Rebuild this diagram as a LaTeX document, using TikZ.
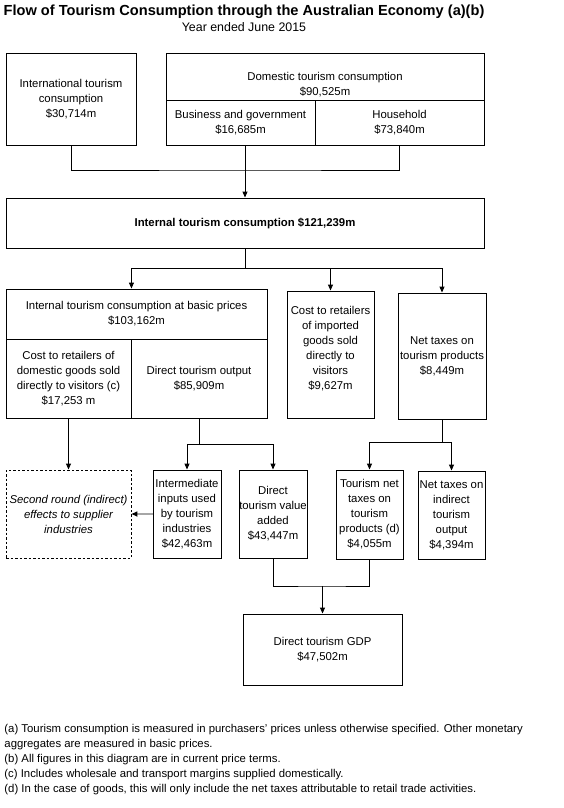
\documentclass[tikz,border=0pt]{standalone}
\usepackage{fontspec}
\setmainfont{Liberation Sans}
\usetikzlibrary{arrows.meta,positioning}

\begin{document}
\begin{tikzpicture}[x=1pt,y=-1pt,line width=.9pt,
box/.style={draw,align=center,inner sep=0pt,font=\fontsize{11.35}{15}\selectfont},
txt/.style={align=center,inner sep=0pt,font=\fontsize{11.35}{15}\selectfont},
arr/.style={-{Triangle[length=6pt,width=5pt]}}]
\useasboundingbox (0,0) rectangle (563,808);
\node[font=\fontsize{14.6}{17}\selectfont\bfseries](title) at (244,12){Flow of Tourism Consumption through the Australian Economy (a)(b)};
\node[font=\fontsize{12.4}{14}\selectfont](year) at (244,27){Year ended June 2015};
% demand side
\node[box,minimum width=130pt,minimum height=92pt](intl) at (71,99){International tourism\\consumption\\\$30,714m};
\node[box,minimum width=318pt,minimum height=92pt](dom) at (325,99){};
\node[txt](domtxt) at (325,84.5){Domestic tourism consumption\\\$90,525m};
\node[box,minimum width=149pt,minimum height=45pt](bg) at (240.5,122.5){Business and government\\\$16,685m};
\node[box,minimum width=169pt,minimum height=45pt](hh) at (399.5,122.5){Household\\\$73,840m};
\node[box,minimum width=478pt,minimum height=50pt](itc) at (245,223){\textbf{Internal tourism consumption \$121,239m}};
% split of internal consumption
\node[box,minimum width=261pt,minimum height=50pt](itcb) at (136.5,314){Internal tourism consumption at basic prices\\\$103,162m};
\node[box,minimum width=125pt,minimum height=79pt](costd) at (68.5,378.5){Cost to retailers of\\domestic goods sold\\directly to visitors (c)\\\$17,253 m};
\node[box,minimum width=136pt,minimum height=79pt](dto) at (199,378.5){Direct tourism output\\\$85,909m};
\node[box,minimum width=87pt,minimum height=127pt](imp) at (330.5,354.5){};
\node[txt](imptxt) at (330.5,348.5){Cost to retailers\\of imported\\goods sold\\directly to\\visitors\\\$9,627m};
\node[box,minimum width=88pt,minimum height=126pt](ntp) at (442,356){Net taxes on\\tourism products\\\$8,449m};
% supply side
\node[box,dash pattern=on 2.5pt off 2pt,minimum width=125pt,minimum height=88pt](second) at (68.5,514){\itshape Second round (indirect)\\\itshape effects to supplier\\\itshape industries};
\node[box,minimum width=68pt,minimum height=88pt](inter) at (187,514){Intermediate\\inputs used\\by tourism\\industries\\\$42,463m};
\node[box,minimum width=68pt,minimum height=88pt](dva) at (273,514){Direct\\tourism value\\added\\\$43,447m};
\node[box,minimum width=67pt,minimum height=89pt](tnt) at (369.5,514.5){Tourism net\\taxes on\\tourism\\products (d)\\\$4,055m};
\node[box,minimum width=67pt,minimum height=88pt](nti) at (451.5,515){Net taxes on\\indirect\\tourism\\output\\\$4,394m};
\node[box,minimum width=159pt,minimum height=71pt](gdp) at (322.5,649.5){Direct tourism GDP\\\$47,502m};
% connectors
\coordinate (j1) at (245,170);
\coordinate (j2) at (245,268);
\coordinate (j3) at (199,444);
\coordinate (j4) at (442,442);
\coordinate (j5) at (322.5,586);
\draw (intl.south) |- (j1) -| (hh.south);
\draw[arr] (itc.north |- bg.south) -- (itc.north);
\draw (itc.south) -- (j2);
\draw[arr] (j2) -| (itcb.north -| costd.east);
\draw[arr] (j2) -| (imp.north);
\draw[arr] (j2) -| (ntp.north);
\draw[arr] (costd.south) -- (second.north);
\draw (dto.south) -- (j3);
\draw[arr] (j3) -| (inter.north);
\draw[arr] (j3) -| (dva.north);
\draw (ntp.south) -- (j4);
\draw[arr] (j4) -| (tnt.north);
\draw[arr] (j4) -| (nti.north);
\draw[gray!70,line width=1.5pt,-{Triangle[length=6pt,width=5pt,color=black]}] (inter.west) -- (second.east);
\draw (dva.south) |- (j5) -| (tnt.south);
\draw[arr] (j5) -- (gdp.north);
% footnotes
\node[anchor=north west,align=left,inner sep=0pt,font=\fontsize{11.35}{15}\selectfont](notes) at (4,724){(a) Tourism consumption is measured in purchasers' prices unless otherwise specified. Other monetary\\aggregates are measured in basic prices.\\(b) All figures in this diagram are in current price terms.\\(c) Includes wholesale and transport margins supplied domestically.\\(d) In the case of goods, this will only include the net taxes attributable to retail trade activities.};
\end{tikzpicture}
\end{document}
